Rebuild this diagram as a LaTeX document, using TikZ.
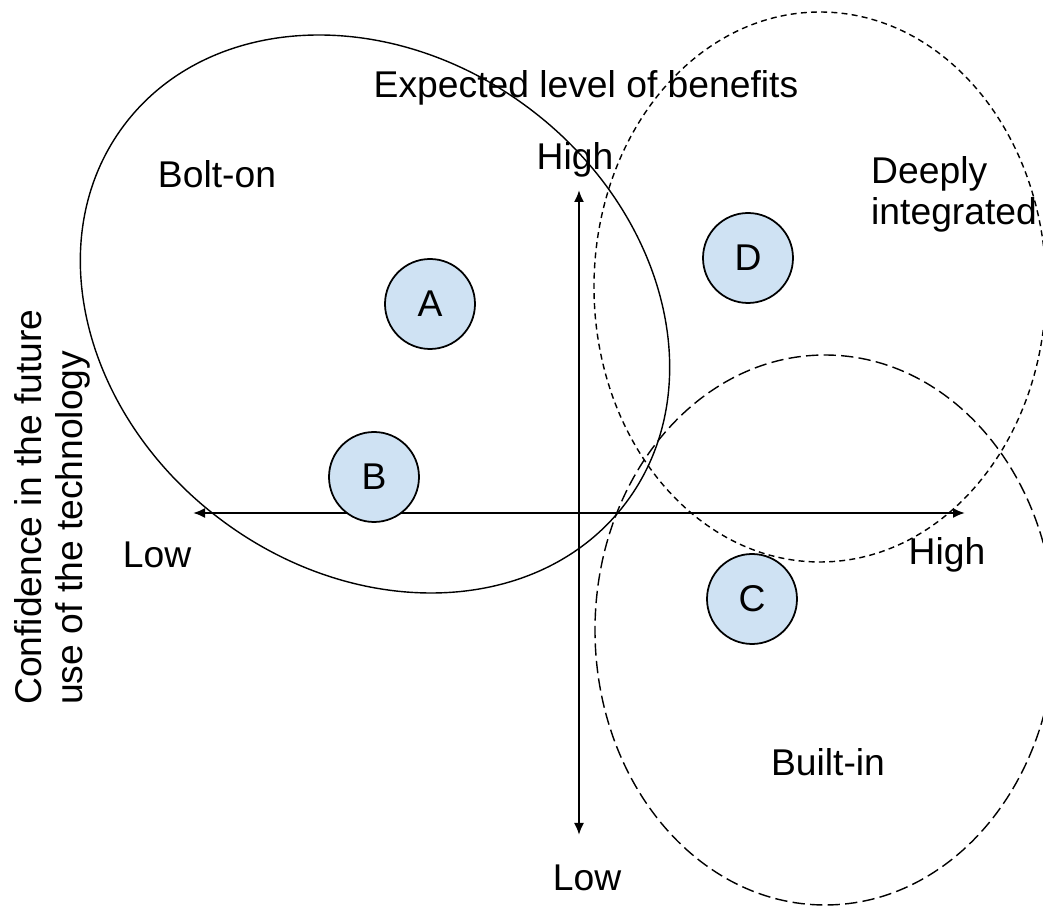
\documentclass[tikz,border=0pt]{standalone}
\usepackage{fontspec}
\setmainfont{Liberation Sans}
\usetikzlibrary{arrows.meta}
\definecolor{firmblue}{HTML}{CFE2F3}

\begin{document}
\begin{tikzpicture}[
    txt/.style={font=\fontsize{21.2}{23.3}\selectfont},
    firm/.style={circle,draw,line width=1pt,fill=firmblue,minimum size=1.8cm,inner sep=0pt,txt},
    axis/.style={line width=1.1pt,{Latex[length=2.4mm,width=2mm]}-{Latex[length=2.4mm,width=2mm]}},
    zone/.style={line width=0.8pt}]
\useasboundingbox (0,0) rectangle (20.86,18.18);
% zones
\draw[zone,rotate around={-37:(7.5,11.9)}] (7.5,11.9) ellipse [x radius=6.28cm, y radius=5.14cm];
\draw[zone,dash pattern=on 3.4pt off 2.4pt] (16.4,12.44) ellipse [x radius=4.52cm, y radius=5.5cm];
\draw[zone,dash pattern=on 7pt off 3pt] (16.5,5.58) ellipse [x radius=4.6cm, y radius=5.5cm];
% axes
\coordinate (xl) at (3.86,7.92);
\coordinate (xr) at (19.3,7.92);
\coordinate (yt) at (11.58,14.38);
\coordinate (yb) at (11.58,1.48);
\draw[axis] (xl) -- (xr);
\draw[axis] (yt) -- (yb);
% firms
\node[firm] (A) at (8.6,12.1) {A};
\node[firm] (B) at (7.48,8.64) {B};
\node[firm] (C) at (15.04,6.2) {C};
\node[firm] (D) at (14.96,13.02) {D};
% labels
\node[txt] (title) at (11.72,16.42) {Expected level of benefits};
\node[txt] (yhigh) at (11.5,14.98) {High};
\node[txt] (ylow) at (11.74,0.62) {Low};
\node[txt] (xlow) at (3.14,7.08) {Low};
\node[txt] (xhigh) at (18.94,7.08) {High};
\node[txt] (bolt) at (4.34,14.7) {Bolt-on};
\node[txt,align=left,anchor=west] (deep) at (17.3,14.3) {Deeply\\integrated};
\node[txt] (built) at (16.56,2.94) {Built-in};
\node[txt,align=left,rotate=90] (conf) at (1.04,8.04) {Confidence in the future\\use of the technology};
\end{tikzpicture}
\end{document}
